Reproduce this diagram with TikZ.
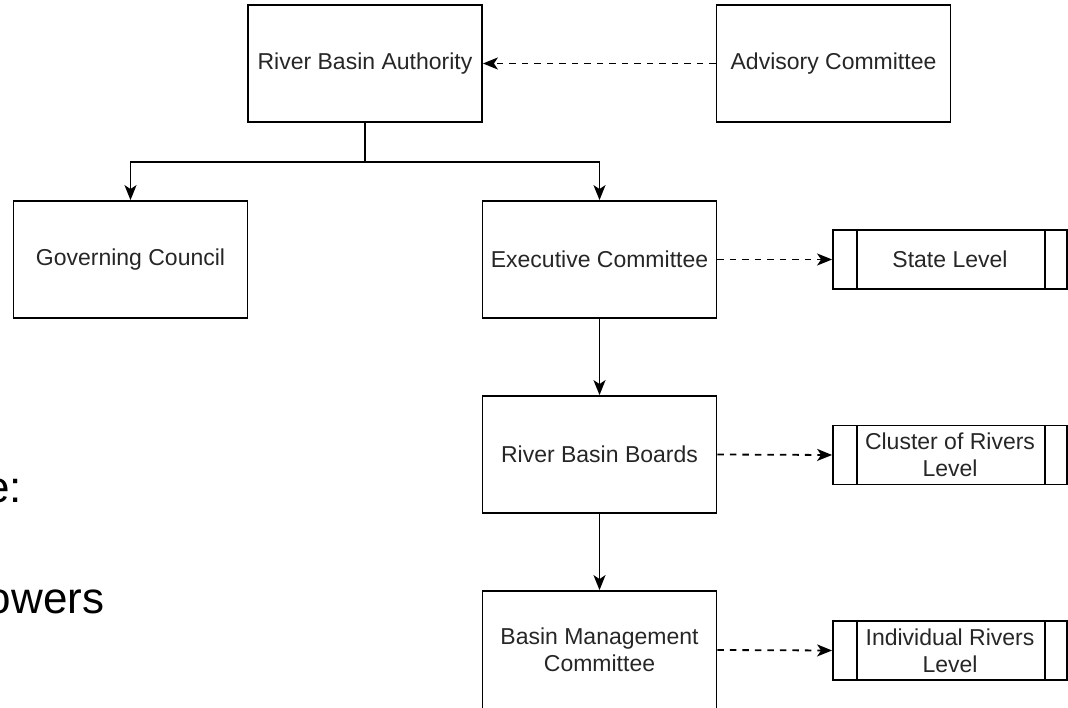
\documentclass[tikz,border=0pt]{standalone}
\usepackage{fontspec}
\setmainfont{Liberation Sans}
\usetikzlibrary{arrows.meta}
\begin{document}
\begin{tikzpicture}[x=1pt,y=-1pt,
  box/.style={draw, line width=1.8pt, minimum width=234pt, minimum height=117pt,
    inner sep=0pt, align=center, font=\fontsize{23}{27}\selectfont, text=black!85},
  proc/.style={box, minimum height=59pt,
    path picture={
      \draw[line width=1.8pt] ([xshift=24pt]path picture bounding box.north west) -- ([xshift=24pt]path picture bounding box.south west);
      \draw[line width=1.8pt] ([xshift=-22pt]path picture bounding box.north east) -- ([xshift=-22pt]path picture bounding box.south east);
    }},
  link/.style={line width=1.8pt},
  conn/.style={link, -{Stealth[length=15pt,width=12pt,inset=4pt]}},
  dconn/.style={conn, dash pattern=on 6.5pt off 6pt},
  big/.style={font=\fontsize{44}{50}\selectfont, inner sep=0pt}
]
\useasboundingbox (0,0) rectangle (1068,708);
\clip (0,0) rectangle (1068,708);

\node[box] (rba) at (365,63.5) {River Basin Authority};
\node[box] (adv) at (833.5,63.5) {Advisory Committee};
\node[box] (gov) at (130.5,259.5) {Governing Council};
\node[box] (exec) at (599.5,259.5) {Executive Committee};
\node[box] (rbb) at (599.5,454.5) {River Basin Boards};
\node[box, minimum height=118pt] (bmc) at (599.5,650) {Basin Management\\Committee};

\node[proc] (state) at (950,259.5) {State Level};
\node[proc] (cluster) at (950,455) {Cluster of Rivers\\Level};
\node[proc] (indiv) at (950,650.5) {Individual Rivers\\Level};

\node[big, anchor=base east] (e) at (22,502) {e:};
\node[big, anchor=base east] (ow) at (104.5,613) {owers};

\coordinate (j) at (365,162);
\draw[link] (rba.south) -- (j);
\draw[conn] (j) -| (gov.north);
\draw[conn] (j) -| (exec.north);
\draw[conn] (exec.south) -- (rbb.north);
\draw[conn] (rbb.south) -- (bmc.north);

\draw[dconn] (adv.west) -- (rba.east);
\draw[dconn] (exec.east) -- (state.west);
\draw[dconn] (rbb.east) -- (cluster.west);
\draw[dconn] (bmc.east) -- (indiv.west);
\end{tikzpicture}
\end{document}
